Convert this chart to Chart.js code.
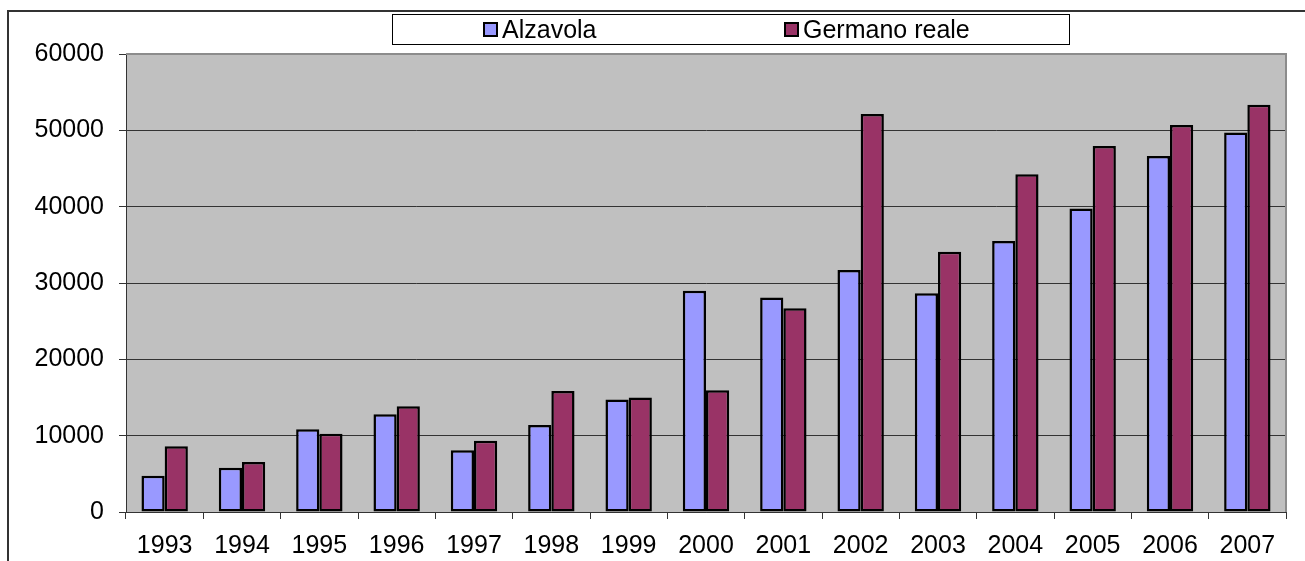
<!DOCTYPE html>
<html>
<head>
<meta charset="utf-8">
<script src="https://cdn.jsdelivr.net/npm/chart.js@4.4.1/dist/chart.umd.min.js"></script>
<style>
  html, body { margin: 0; padding: 0; background: #fff; }
  #wrap { width: 1305px; height: 561px; position: relative; }
</style>
</head>
<body>
<div id="wrap"><canvas id="grafico"></canvas></div>
<script>
// Dati
const anni = ['1993', '1994', '1995', '1996', '1997', '1998', '1999', '2000', '2001', '2002', '2003', '2004', '2005', '2006', '2007'];
const alzavola = [4750, 5800, 10850, 12800, 8100, 11400, 14750, 29000, 28100, 31700, 28650, 35500, 39750, 46650, 49700];
const germanoReale = [8600, 6550, 10250, 13850, 9350, 15850, 15000, 15950, 26700, 52150, 34100, 44250, 47950, 50700, 53350];
const yTicks = [0, 10000, 20000, 30000, 40000, 50000, 60000];

const FONT = 'Liberation Sans, Arial, sans-serif';

// Sfondo grigio dell'area del grafico + bordo esterno
const sfondo = {
  id: 'sfondo',
  beforeDraw(chart) {
    const { ctx, chartArea: a } = chart;
    ctx.save();
    ctx.fillStyle = '#C0C0C0';
    ctx.fillRect(a.left, a.top, a.right - a.left, a.bottom - a.top);
    // bordo esterno
    ctx.strokeStyle = '#333';
    ctx.lineWidth = 2;
    ctx.beginPath();
    ctx.moveTo(8, 600);
    ctx.lineTo(8, 11);
    ctx.lineTo(1310, 11);
    ctx.stroke();
    ctx.restore();
  },
  afterDatasetsDraw(chart) {
    const { ctx, chartArea: a } = chart;
    ctx.save();
    ctx.strokeStyle = '#8c8c8c';
    ctx.lineWidth = 2;
    ctx.beginPath();
    ctx.moveTo(a.left, a.top);
    ctx.lineTo(a.right, a.top);
    ctx.lineTo(a.right, a.bottom);
    ctx.stroke();
    ctx.restore();
  }
};

// Legenda disegnata a mano (riquadro in alto al centro)
const legenda = {
  id: 'legenda',
  afterDraw(chart) {
    const ctx = chart.ctx;
    ctx.save();
    ctx.fillStyle = '#fff';
    ctx.fillRect(392, 14, 677, 30);
    ctx.strokeStyle = '#000';
    ctx.lineWidth = 1;
    ctx.strokeRect(392.5, 14.5, 677, 30);
    const posX = [484, 785];
    ctx.font = '25px ' + FONT;
    ctx.textBaseline = 'middle';
    chart.data.datasets.forEach((ds, i) => {
      const x = posX[i];
      ctx.fillStyle = ds.backgroundColor;
      ctx.fillRect(x, 23, 13, 13);
      ctx.strokeStyle = '#000';
      ctx.lineWidth = 2;
      ctx.strokeRect(x, 23, 13, 13);
      ctx.fillStyle = '#000';
      ctx.fillText(ds.label, x + 18, 31);
    });
    ctx.restore();
  }
};

new Chart(document.getElementById('grafico'), {
  type: 'bar',
  data: {
    labels: anni,
    datasets: [
      { label: 'Alzavola', data: alzavola, backgroundColor: '#9999FF', borderColor: '#000', borderWidth: 2.5, borderSkipped: false },
      { label: 'Germano reale', data: germanoReale, backgroundColor: '#993366', borderColor: '#000', borderWidth: 2.5, borderSkipped: false }
    ]
  },
  options: {
    responsive: true,
    maintainAspectRatio: false,
    animation: false,
    layout: { padding: { top: 54, right: 19, bottom: 0, left: 0 } },
    datasets: { bar: { barPercentage: 1, categoryPercentage: 0.6 } },
    plugins: { legend: { display: false }, tooltip: { enabled: false } },
    scales: {
      x: {
        afterFit(s) { s.height = 49; },
        grid: { offset: true, drawOnChartArea: false, tickLength: 7, color: '#333', lineWidth: 1 },
        border: { color: '#333', width: 1 },
        ticks: { color: '#000', font: { family: FONT, size: 25 }, padding: 12, maxRotation: 0, autoSkip: false }
      },
      y: {
        min: 0,
        max: 60000,
        afterFit(s) { s.width = 126; },
        afterBuildTicks(s) { s.ticks = yTicks.map(v => ({ value: v })); },
        grid: { color: '#333', lineWidth: 1, tickLength: 7 },
        border: { color: '#333', width: 1 },
        ticks: { color: '#000', font: { family: FONT, size: 25 }, padding: 15, callback: v => String(v) }
      }
    }
  },
  plugins: [sfondo, legenda]
});
</script>
</body>
</html>
